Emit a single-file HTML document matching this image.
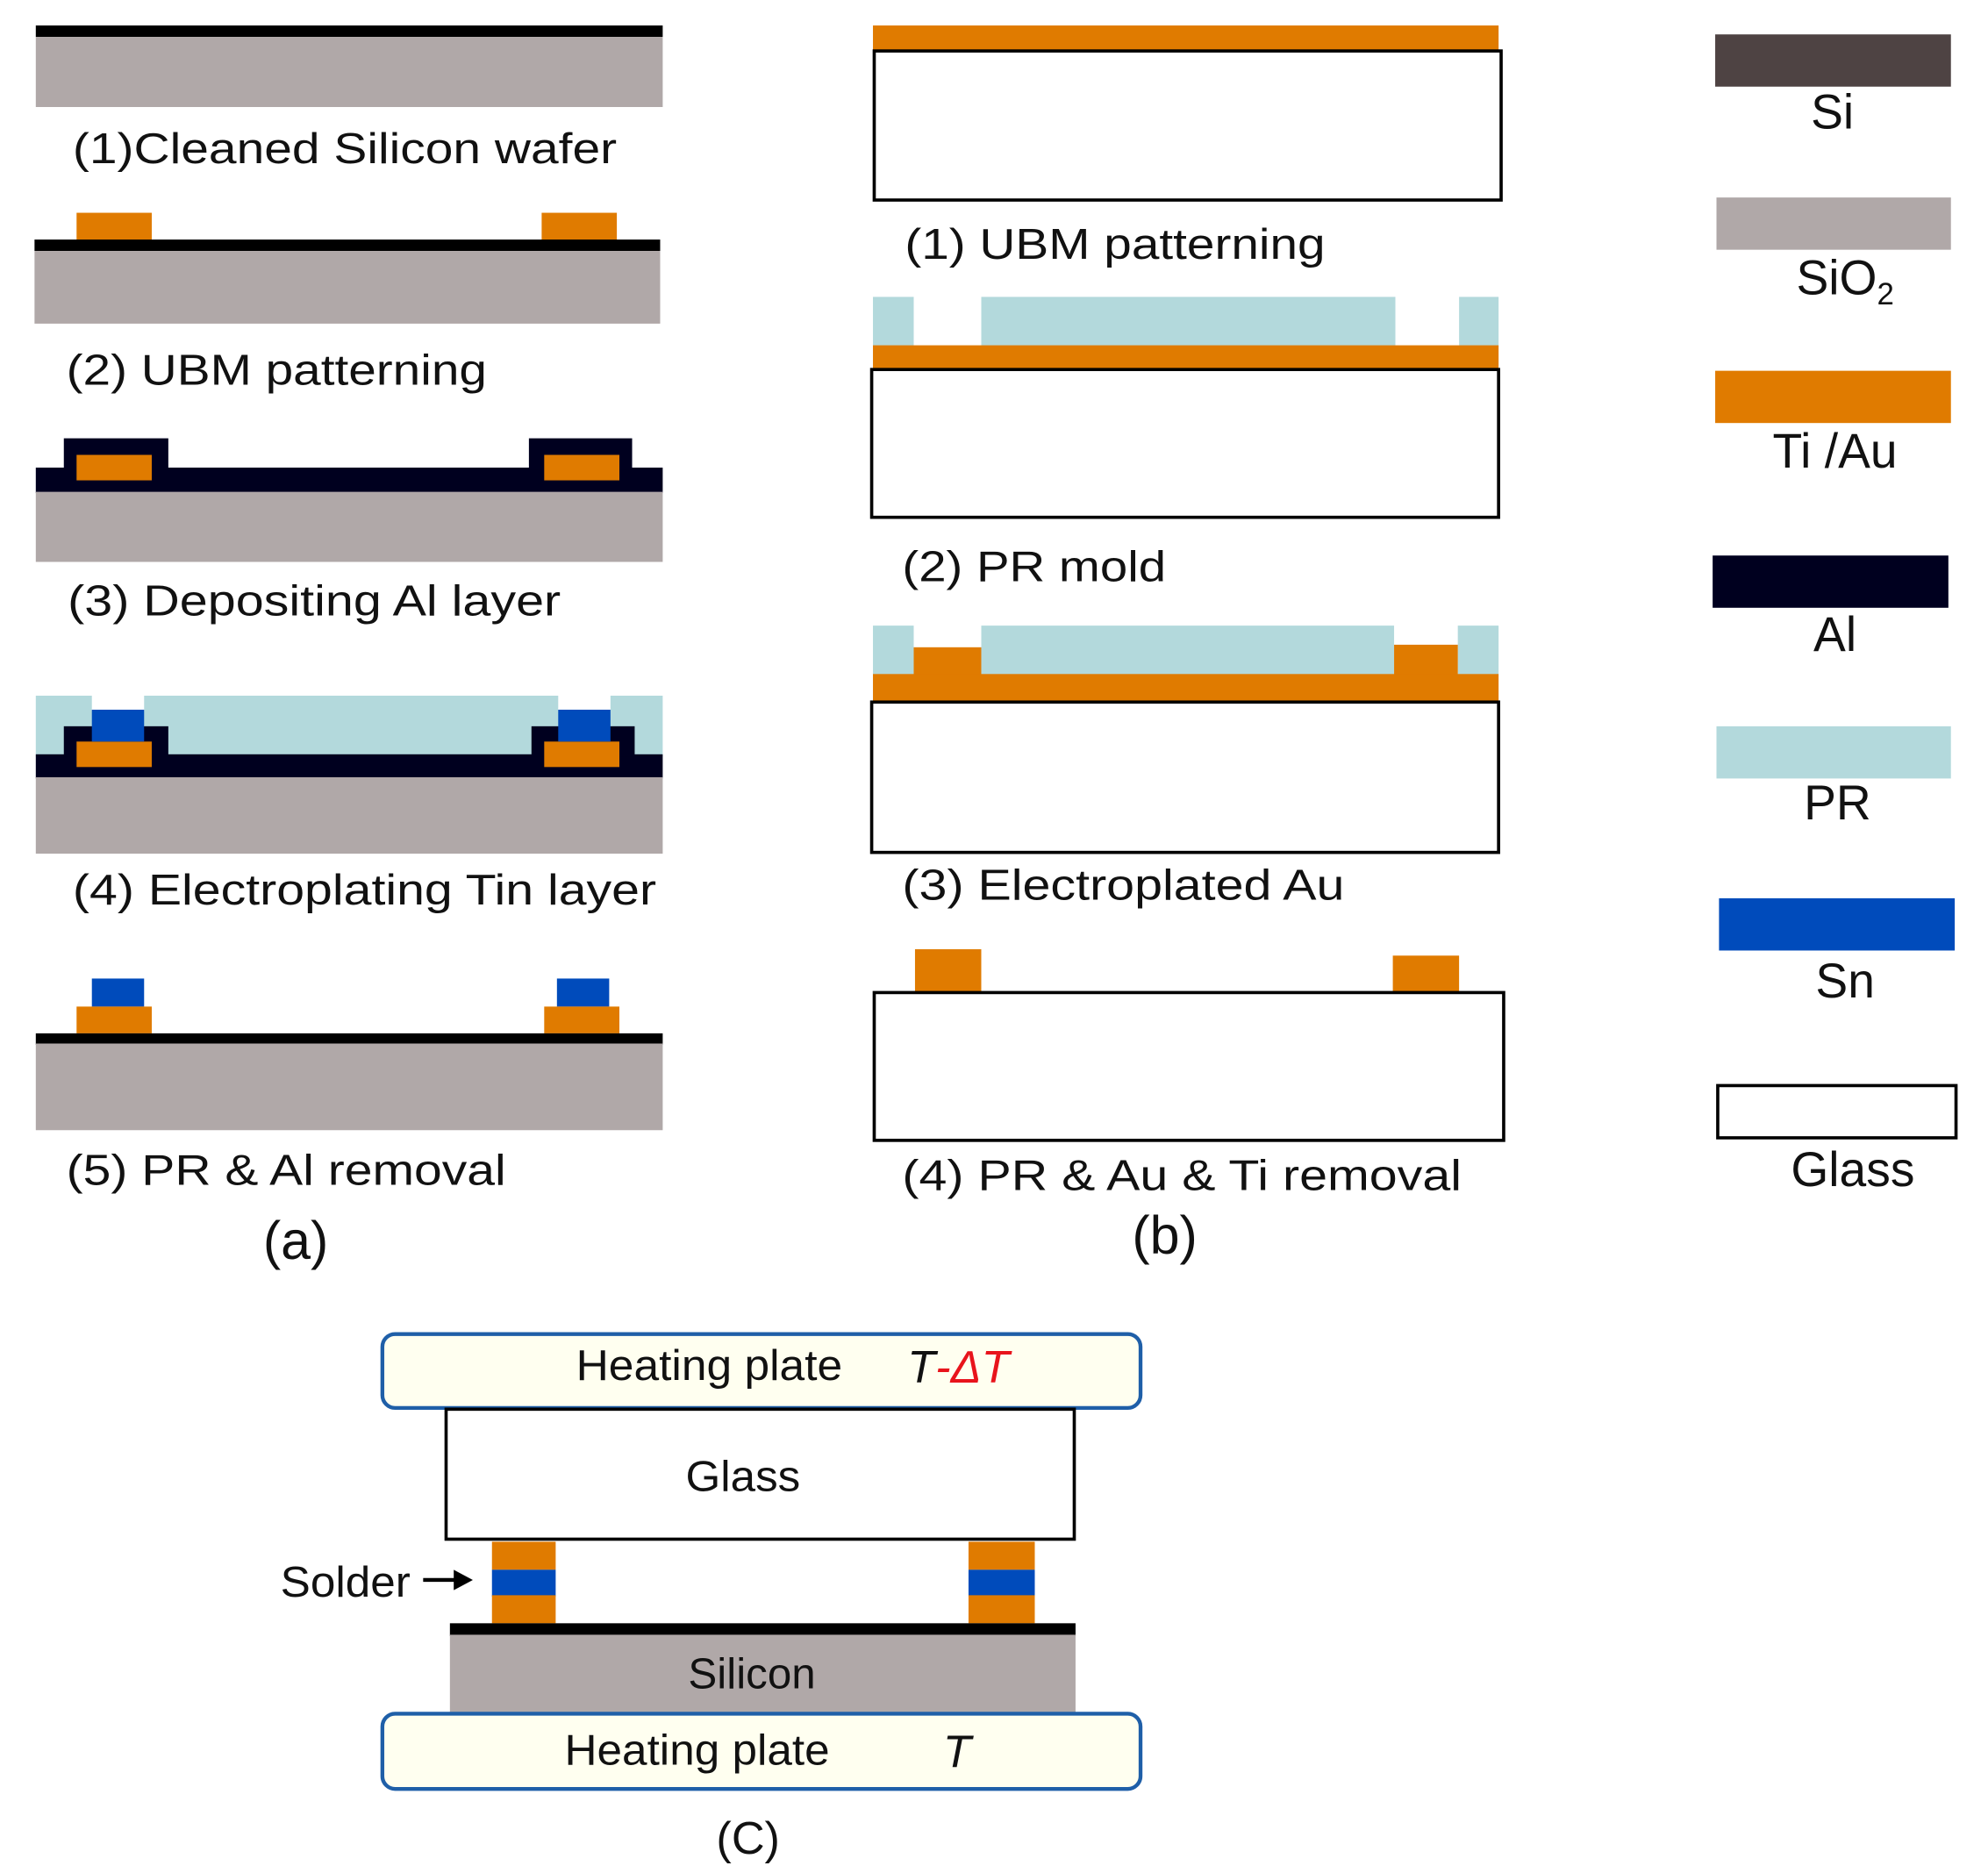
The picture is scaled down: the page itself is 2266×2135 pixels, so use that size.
<!DOCTYPE html>
<html><head><meta charset="utf-8"><style>html,body{margin:0;padding:0;background:#fff}svg{display:block}</style></head>
<body>
<svg width="2266" height="2135" viewBox="0 0 1560 1470" xmlns="http://www.w3.org/2000/svg" font-family="Liberation Sans, Arial, sans-serif" font-size="34" fill="#111">
<rect width="1560" height="1470" fill="#fff"/>
<!-- (a) -->
<rect x="28" y="20" width="492" height="9" fill="#000"/>
<rect x="28" y="29" width="492" height="55" fill="#b0a8a8"/>
<text x="57" y="128" textLength="427" lengthAdjust="spacingAndGlyphs">(1)Cleaned Silicon wafer</text>

<rect x="60" y="167" width="59" height="22" fill="#e07b00"/>
<rect x="425" y="167" width="59" height="22" fill="#e07b00"/>
<rect x="27" y="188" width="491" height="9" fill="#000"/>
<rect x="27" y="197" width="491" height="57" fill="#b0a8a8"/>
<text x="52" y="302" textLength="330" lengthAdjust="spacingAndGlyphs">(2) UBM patterning</text>

<rect x="28" y="367" width="492" height="20" fill="#00001f"/>
<rect x="50" y="344" width="82" height="25" fill="#00001f"/>
<rect x="415" y="344" width="81" height="25" fill="#00001f"/>
<rect x="60" y="357" width="59" height="20" fill="#e07b00"/>
<rect x="427" y="357" width="59" height="20" fill="#e07b00"/>
<rect x="28" y="386" width="492" height="55" fill="#b0a8a8"/>
<text x="53" y="483" textLength="387" lengthAdjust="spacingAndGlyphs">(3) Depositing Al layer</text>

<rect x="28" y="546" width="492" height="48" fill="#b3d9dc"/>
<rect x="72" y="546" width="41" height="12" fill="#fff"/>
<rect x="438" y="546" width="41" height="12" fill="#fff"/>
<rect x="28" y="592" width="492" height="19" fill="#00001f"/>
<rect x="50" y="570" width="82" height="24" fill="#00001f"/>
<rect x="417" y="570" width="81" height="24" fill="#00001f"/>
<rect x="60" y="582" width="59" height="20" fill="#e07b00"/>
<rect x="427" y="582" width="59" height="20" fill="#e07b00"/>
<rect x="72" y="557" width="41" height="25" fill="#004bbb"/>
<rect x="438" y="557" width="41" height="25" fill="#004bbb"/>
<rect x="28" y="610" width="492" height="60" fill="#b0a8a8"/>
<text x="57" y="710" textLength="458" lengthAdjust="spacingAndGlyphs">(4) Electroplating Tin layer</text>

<rect x="72" y="768" width="41" height="22" fill="#004bbb"/>
<rect x="60" y="790" width="59" height="21" fill="#e07b00"/>
<rect x="437" y="768" width="41" height="22" fill="#004bbb"/>
<rect x="427" y="790" width="59" height="21" fill="#e07b00"/>
<rect x="28" y="811" width="492" height="9" fill="#000"/>
<rect x="28" y="819" width="492" height="68" fill="#b0a8a8"/>
<text x="52" y="930" textLength="345" lengthAdjust="spacingAndGlyphs">(5) PR &amp; Al removal</text>
<text x="232" y="988" font-size="42" text-anchor="middle">(a)</text>

<!-- (b) -->
<rect x="685" y="20" width="491" height="21" fill="#e07b00"/>
<rect x="686" y="40" width="492" height="117" fill="#fff" stroke="#000" stroke-width="2.5"/>
<text x="710" y="203" textLength="330" lengthAdjust="spacingAndGlyphs">(1) UBM patterning</text>

<rect x="685" y="233" width="32" height="39" fill="#b3d9dc"/>
<rect x="770" y="233" width="325" height="39" fill="#b3d9dc"/>
<rect x="1145" y="233" width="31" height="39" fill="#b3d9dc"/>
<rect x="685" y="271" width="491" height="20" fill="#e07b00"/>
<rect x="684" y="290" width="492" height="116" fill="#fff" stroke="#000" stroke-width="2.5"/>
<text x="708" y="456" textLength="207" lengthAdjust="spacingAndGlyphs">(2) PR mold</text>

<rect x="685" y="491" width="32" height="39" fill="#b3d9dc"/>
<rect x="770" y="491" width="324" height="39" fill="#b3d9dc"/>
<rect x="1144" y="491" width="32" height="39" fill="#b3d9dc"/>
<rect x="717" y="508" width="53" height="22" fill="#e07b00"/>
<rect x="1094" y="506" width="50" height="24" fill="#e07b00"/>
<rect x="685" y="529" width="491" height="23" fill="#e07b00"/>
<rect x="684" y="551" width="492" height="118" fill="#fff" stroke="#000" stroke-width="2.5"/>
<text x="708" y="706" textLength="347" lengthAdjust="spacingAndGlyphs">(3) Electroplated Au</text>

<rect x="718" y="745" width="52" height="35" fill="#e07b00"/>
<rect x="1093" y="750" width="52" height="30" fill="#e07b00"/>
<rect x="686" y="779" width="494" height="116" fill="#fff" stroke="#000" stroke-width="2.5"/>
<text x="708" y="934" textLength="439" lengthAdjust="spacingAndGlyphs">(4) PR &amp; Au &amp; Ti removal</text>
<text x="914" y="984" font-size="42" text-anchor="middle">(b)</text>

<!-- legend -->
<g font-size="38">
<rect x="1346" y="27" width="185" height="41" fill="#4e4343"/>
<text x="1438" y="101" text-anchor="middle">Si</text>
<rect x="1347" y="155" width="184" height="41" fill="#b0a8a8"/>
<text x="1448" y="231" text-anchor="middle">SiO<tspan font-size="24" dy="8">2</tspan></text>
<rect x="1346" y="291" width="185" height="41" fill="#e07b00"/>
<text x="1440" y="367" text-anchor="middle">Ti /Au</text>
<rect x="1344" y="436" width="185" height="41" fill="#00001f"/>
<text x="1440" y="511" text-anchor="middle">Al</text>
<rect x="1347" y="570" width="184" height="41" fill="#b3d9dc"/>
<text x="1442" y="643" text-anchor="middle">PR</text>
<rect x="1349" y="705" width="185" height="41" fill="#004bbb"/>
<text x="1448" y="783" text-anchor="middle">Sn</text>
<rect x="1348" y="852" width="187" height="41" fill="#fff" stroke="#000" stroke-width="2.5"/>
<text x="1454" y="931" text-anchor="middle">Glass</text>
</g>

<!-- (c) -->
<rect x="300" y="1047" width="595" height="58" rx="10" fill="#fffff0" stroke="#1f5fa8" stroke-width="3"/>
<text x="452" y="1083" textLength="209" lengthAdjust="spacingAndGlyphs">Heating plate</text>
<text x="712" y="1085" font-style="italic" font-size="36">T<tspan fill="#e8141c">-ΔT</tspan></text>
<rect x="350" y="1106" width="493" height="102" fill="#fff" stroke="#000" stroke-width="2.5"/>
<text x="583" y="1170" text-anchor="middle" textLength="90" lengthAdjust="spacingAndGlyphs">Glass</text>
<rect x="386" y="1210" width="50" height="22" fill="#e07b00"/>
<rect x="386" y="1232" width="50" height="21" fill="#004bbb"/>
<rect x="386" y="1252" width="50" height="22" fill="#e07b00"/>
<rect x="760" y="1210" width="52" height="22" fill="#e07b00"/>
<rect x="760" y="1232" width="52" height="21" fill="#004bbb"/>
<rect x="760" y="1252" width="52" height="22" fill="#e07b00"/>
<rect x="353" y="1274" width="491" height="10" fill="#000"/>
<rect x="353" y="1283" width="491" height="61" fill="#b0a8a8"/>
<text x="590" y="1325" text-anchor="middle" textLength="100" lengthAdjust="spacingAndGlyphs">Silicon</text>
<rect x="300" y="1345" width="595" height="59" rx="10" fill="#fffff0" stroke="#1f5fa8" stroke-width="3"/>
<text x="443" y="1385" textLength="208" lengthAdjust="spacingAndGlyphs">Heating plate</text>
<text x="740" y="1387" font-style="italic" font-size="36">T</text>
<text x="220" y="1253" textLength="102" lengthAdjust="spacingAndGlyphs">Solder</text>
<line x1="332" y1="1240" x2="358" y2="1240" stroke="#000" stroke-width="3"/>
<polygon points="356,1232 371,1240 356,1248" fill="#000"/>
<text x="587" y="1455" text-anchor="middle" font-size="36">(C)</text>
</svg>
</body></html>
